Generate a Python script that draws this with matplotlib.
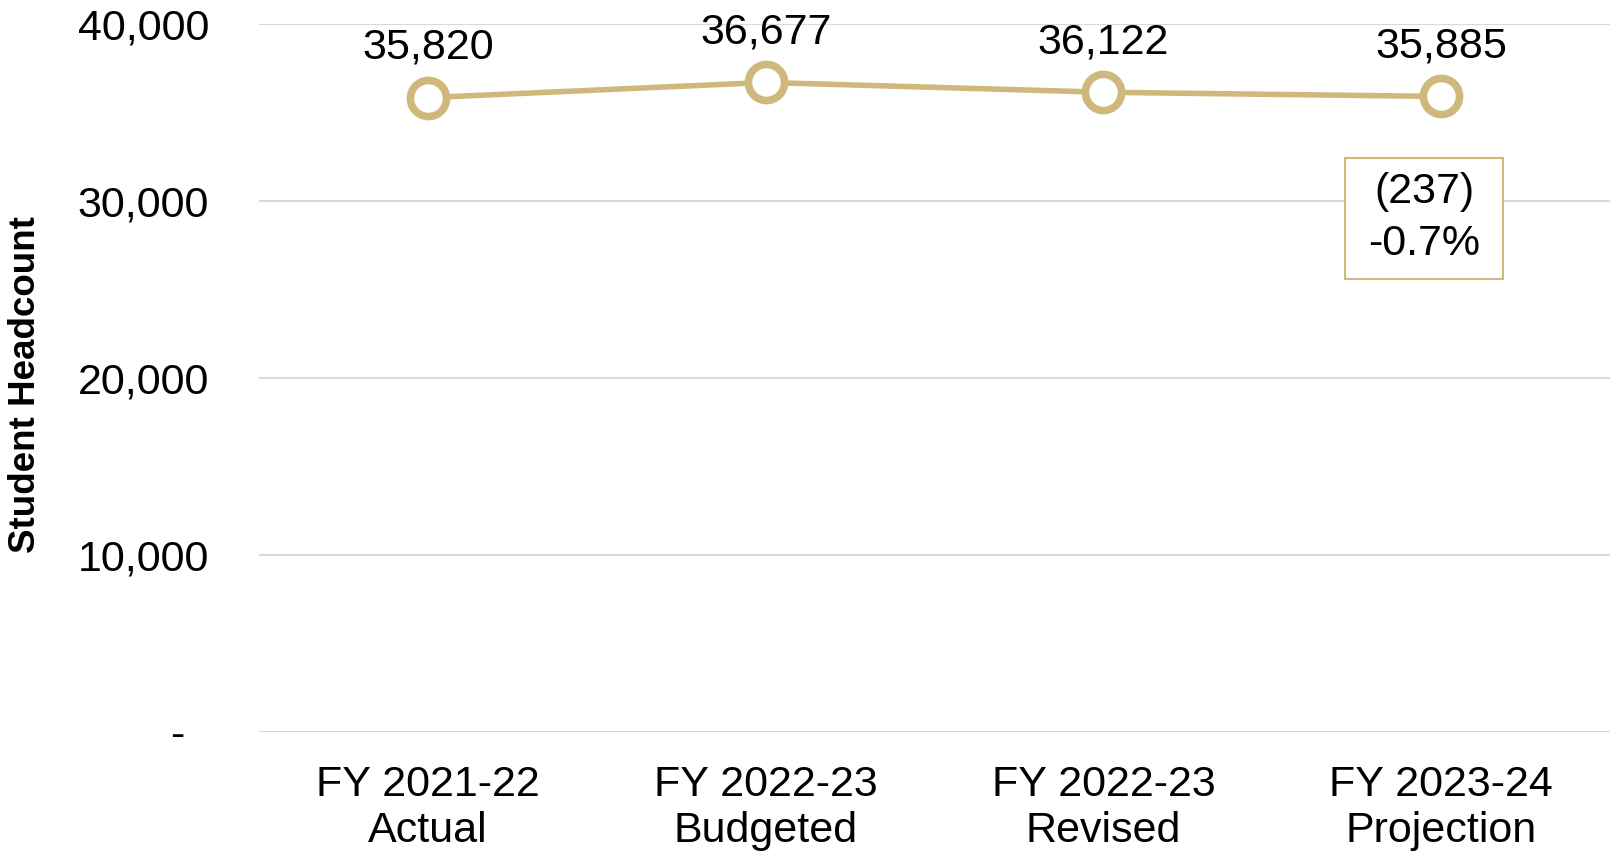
import matplotlib
matplotlib.use("Agg")
import matplotlib.pyplot as plt
from matplotlib.ticker import FuncFormatter

plt.rcParams['font.family'] = ['Liberation Sans', 'DejaVu Sans']

# data
categories = ["FY 2021-22\nActual", "FY 2022-23\nBudgeted", "FY 2022-23\nRevised", "FY 2023-24\nProjection"]
headcount = [35820, 36677, 36122, 35885]
y_ticks = [0, 10000, 20000, 30000, 40000]

gold = "#CFB87C"
grid_col = "#D9D9D9"

fig = plt.figure(figsize=(16.1, 8.58), dpi=100)
ax = fig.add_axes([0.161, 0.147, 0.839, 0.8255])

x = list(range(len(categories)))
ax.plot(x, headcount, color=gold, lw=4, marker="o", ms=26, mfc="white",
        mec=gold, mew=5.5, zorder=3, clip_on=False)

for xi, v in zip(x, headcount):
    ax.annotate(f"{v:,}", (xi, v), xytext=(0, 36), textcoords="offset points",
                ha="center", va="center", fontsize=31)

# change box between revised and projection
diff = headcount[3] - headcount[2]
pct = diff / headcount[2] * 100
diff_txt = f"({abs(diff):,})" if diff < 0 else f"{diff:,}"
ax.text(2.95, 29000, f"{diff_txt}\n{pct:.1f}%", ha="center", va="center",
        fontsize=31, linespacing=1.38,
        bbox=dict(boxstyle="square,pad=0.53", mutation_aspect=0.65,
                  fc="white", ec=gold, lw=1.5))

ax.set_xlim(-0.5, 3.5)
ax.set_ylim(0, 40000)
ax.set_xticks(x)
ax.set_xticklabels(categories, fontsize=31, linespacing=1.18)
ax.set_yticks(y_ticks)
ax.yaxis.set_major_formatter(FuncFormatter(lambda v, p: "-  " if v == 0 else f"{int(v):,}"))
ax.tick_params(axis="y", labelsize=31, length=0, pad=36)
ax.tick_params(axis="x", length=0, pad=24)
ax.grid(axis="y", color=grid_col, lw=1.5)
ax.set_axisbelow(True)
for s in ax.spines.values():
    s.set_visible(False)

ax.set_ylabel("Student Headcount", fontsize=26.5, fontweight="bold")
ax.yaxis.set_label_coords(-0.160, 0.49)

fig.savefig("out.png", dpi=100)
